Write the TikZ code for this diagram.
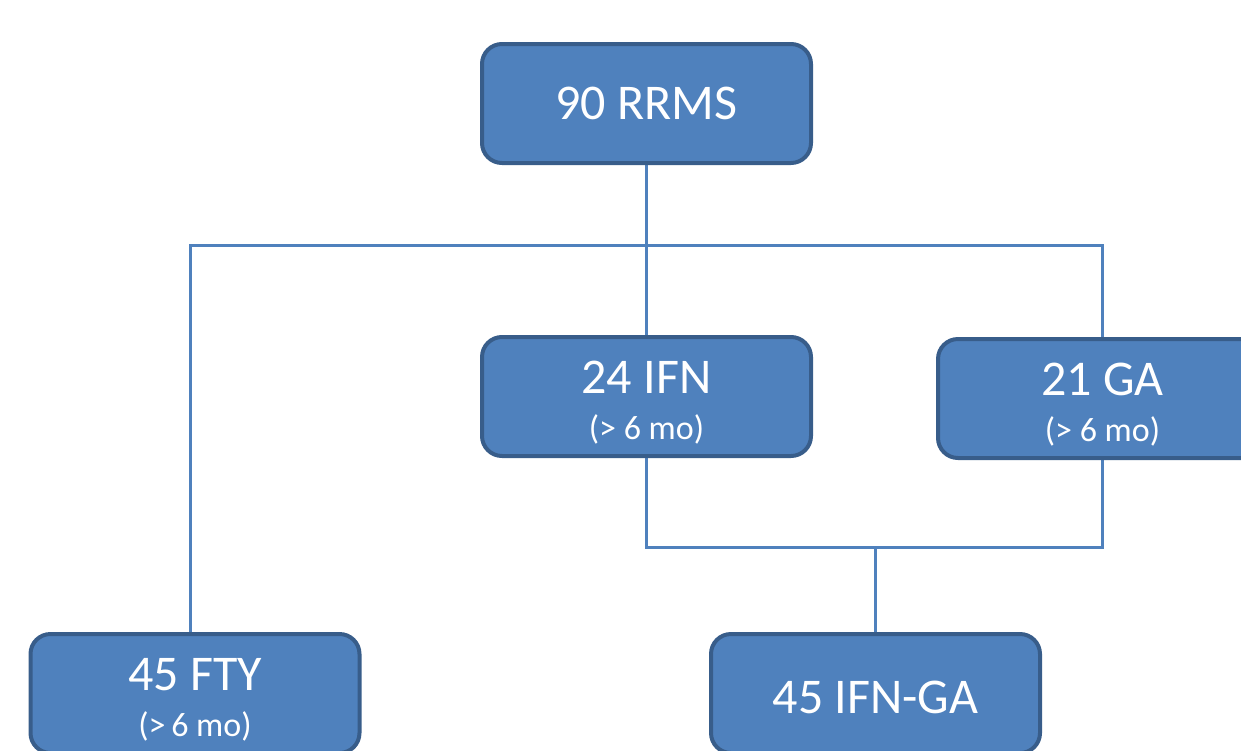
\documentclass[tikz,border=0pt]{standalone}
\usepackage{fontspec}
\setmainfont{Carlito}
\usepackage{tikz}
\usetikzlibrary{positioning, calc, backgrounds}
\definecolor{boxfill}{RGB}{79, 129, 189}
\definecolor{boxedge}{RGB}{56, 93, 138}
\definecolor{linkcol}{RGB}{79, 129, 189}
\newcommand{\lift}{\raisebox{0pt}[44pt]{}}
\newcommand{\months}[1]{{\fontsize{34}{36}\selectfont #1}}

\begin{document}
\begin{tikzpicture}[
    x=1pt, y=-1pt,
    group/.style={rectangle, rounded corners=20pt, minimum width=329pt, minimum height=119pt,
        fill=boxfill, draw=boxedge, line width=4pt, text=white, align=center,
        font=\fontsize{50}{56}\selectfont, inner sep=0pt},
    link/.style={draw=linkcol, line width=3pt},
]
    \useasboundingbox (0,0) rectangle (1241,750);
    \clip (0,0) rectangle (1241,750);
    \node[group] (rrms) at (646.5, 103.5) {90 RRMS};
    \node[group] (ifn) at (646.5, 396.5) {\lift 24 IFN\\[-10pt]\months{(> 6 mo)}};
    \node[group] (ga) at (1102.5, 398.5) {\lift 21 GA\\[-10pt]\months{(> 6 mo)}};
    \node[group] (fty) at (195, 693.5) {\lift 45 FTY\\[-10pt]\months{(>\,6 mo)}};
    \node[group] (ifnga) at (875.5, 693.5) {\raisebox{0pt}[40pt]{}45 IFN-GA};
    \coordinate (split) at (646.5, 245);
    \coordinate (merge) at (875.5, 547);
    \begin{scope}[on background layer]
        \draw[link] (rrms.center) -- (ifn.north);
        \draw[link] (fty.north -| 190,0) |- (split) -| (ga.north);
        \draw[link] (ifn.center) |- (merge) -| (ga.center);
        \draw[link] (merge) -- (ifnga.north);
    \end{scope}
\end{tikzpicture}
\end{document}
